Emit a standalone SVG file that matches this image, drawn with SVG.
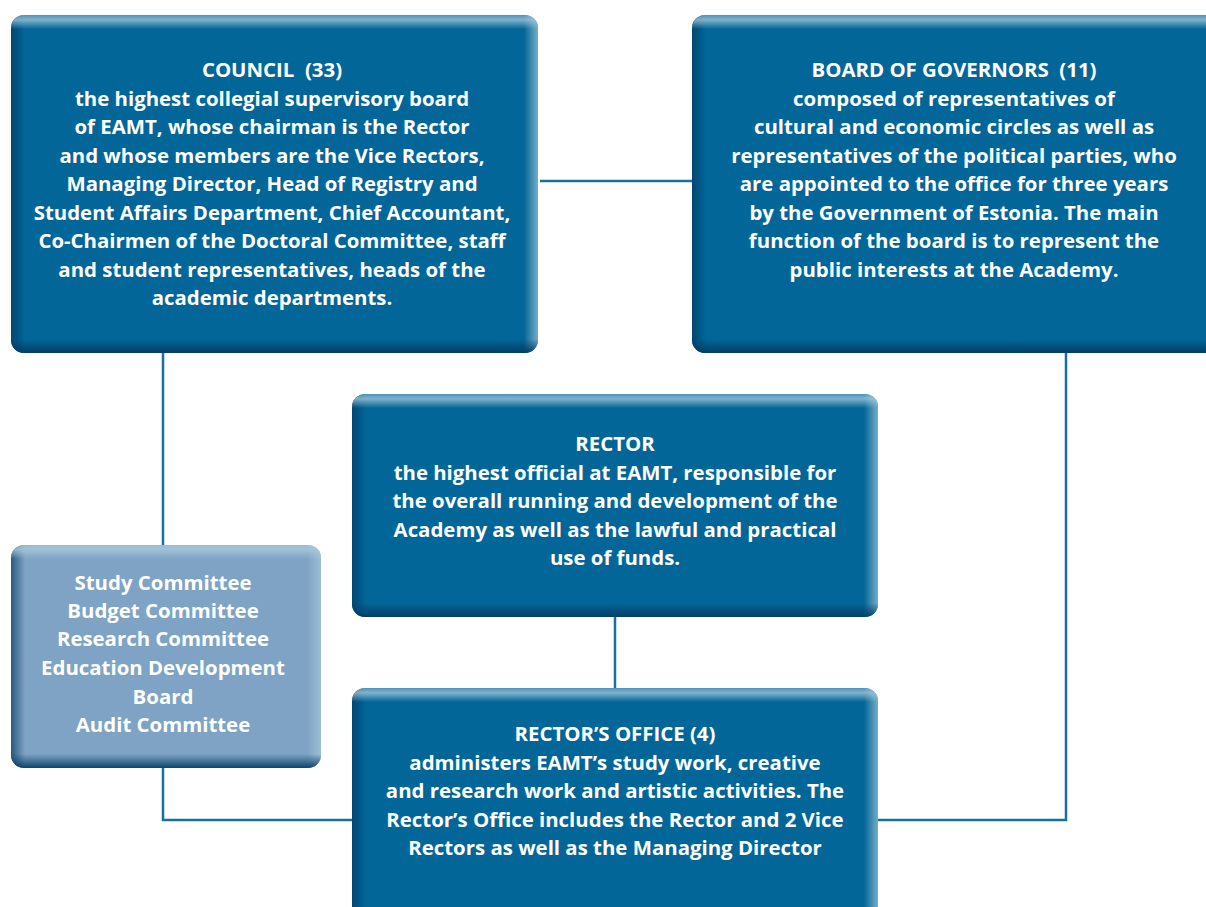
<svg xmlns="http://www.w3.org/2000/svg" width="1206" height="907" viewBox="0 0 1206 907">
<defs>
<linearGradient id="gTop" x1="0" y1="0" x2="0" y2="1"><stop offset="0" stop-color="#cfe3ee" stop-opacity="0.35"/><stop offset="0.35" stop-color="#a9cbdd" stop-opacity="0.75"/><stop offset="1" stop-color="#a9cbdd" stop-opacity="0"/></linearGradient>
<linearGradient id="gBot" x1="0" y1="0" x2="0" y2="1"><stop offset="0" stop-color="#003a63" stop-opacity="0"/><stop offset="1" stop-color="#003a63" stop-opacity="0.9"/></linearGradient>
<linearGradient id="gLeft" x1="0" y1="0" x2="1" y2="0"><stop offset="0" stop-color="#003a63" stop-opacity="0.7"/><stop offset="1" stop-color="#003a63" stop-opacity="0"/></linearGradient>
<linearGradient id="gRight" x1="0" y1="0" x2="1" y2="0"><stop offset="0" stop-color="#a9cbdd" stop-opacity="0"/><stop offset="1" stop-color="#a9cbdd" stop-opacity="0.7"/></linearGradient>
<clipPath id="cCouncil"><rect x="11" y="15" width="527" height="338" rx="13"/></clipPath>
<clipPath id="cBoard"><rect x="692" y="15" width="530" height="338" rx="13"/></clipPath>
<clipPath id="cRector"><rect x="352" y="394" width="526" height="223" rx="13"/></clipPath>
<clipPath id="cOffice"><rect x="352" y="688" width="526" height="235" rx="13"/></clipPath>
<clipPath id="cComm"><rect x="11" y="545" width="310" height="223" rx="13"/></clipPath>
</defs>
<style>
.box{fill:#026698}
.lite{fill:#7ea3c4}
.t{font-family:"Open Sans","Liberation Sans",sans-serif;font-weight:bold;font-size:20.4px;fill:#ffffff;text-anchor:middle;white-space:pre}
.c{stroke:#17709d;stroke-width:2.5;fill:none}
</style>
<g id="connectors">
<line class="c" x1="540" y1="181" x2="692" y2="181"/>
<polyline class="c" points="163,353 163,545"/>
<polyline class="c" points="163,768 163,820 352,820"/>
<polyline class="c" points="1066,353 1066,820 878,820"/>
<line class="c" x1="615" y1="617" x2="615" y2="688"/>
</g>
<g id="council" clip-path="url(#cCouncil)">
<rect class="box" x="11" y="15" width="527" height="338"/>
<rect x="11" y="15" width="14" height="338" fill="url(#gLeft)"/>
<rect x="524" y="15" width="14" height="338" fill="url(#gRight)"/>
<rect x="11" y="15" width="527" height="14" fill="url(#gTop)"/>
<rect x="11" y="339" width="527" height="14" fill="url(#gBot)"/>
<text class="t" x="272" y="77">COUNCIL  (33)</text>
<text class="t" x="272" y="106">the highest collegial supervisory board</text>
<text class="t" x="272" y="134">of EAMT, whose chairman is the Rector</text>
<text class="t" x="272" y="163">and whose members are the Vice Rectors,</text>
<text class="t" x="272" y="191">Managing Director, Head of Registry and</text>
<text class="t" x="272" y="220">Student Affairs Department, Chief Accountant,</text>
<text class="t" x="272" y="248">Co-Chairmen of the Doctoral Committee, staff</text>
<text class="t" x="272" y="277">and student representatives, heads of the</text>
<text class="t" x="272" y="305">academic departments.</text>
</g>
<g id="board" clip-path="url(#cBoard)">
<rect class="box" x="692" y="15" width="530" height="338"/>
<rect x="692" y="15" width="14" height="338" fill="url(#gLeft)"/>
<rect x="692" y="15" width="530" height="14" fill="url(#gTop)"/>
<rect x="692" y="339" width="530" height="14" fill="url(#gBot)"/>
<text class="t" x="954" y="77">BOARD OF GOVERNORS  (11)</text>
<text class="t" x="954" y="106">composed of representatives of</text>
<text class="t" x="954" y="134">cultural and economic circles as well as</text>
<text class="t" x="954" y="163">representatives of the political parties, who</text>
<text class="t" x="954" y="191">are appointed to the office for three years</text>
<text class="t" x="954" y="220">by the Government of Estonia. The main</text>
<text class="t" x="954" y="248">function of the board is to represent the</text>
<text class="t" x="954" y="277">public interests at the Academy.</text>
</g>
<g id="rector" clip-path="url(#cRector)">
<rect class="box" x="352" y="394" width="526" height="223"/>
<rect x="352" y="394" width="14" height="223" fill="url(#gLeft)"/>
<rect x="864" y="394" width="14" height="223" fill="url(#gRight)"/>
<rect x="352" y="394" width="526" height="14" fill="url(#gTop)"/>
<rect x="352" y="603" width="526" height="14" fill="url(#gBot)"/>
<text class="t" x="615" y="451">RECTOR</text>
<text class="t" x="615" y="480">the highest official at EAMT, responsible for</text>
<text class="t" x="615" y="508">the overall running and development of the</text>
<text class="t" x="615" y="537">Academy as well as the lawful and practical</text>
<text class="t" x="615" y="565">use of funds.</text>
</g>
<g id="committees" clip-path="url(#cComm)">
<rect class="lite" x="11" y="545" width="310" height="223"/>
<rect x="11" y="545" width="14" height="223" fill="url(#gLeft)"/>
<rect x="307" y="545" width="14" height="223" fill="url(#gRight)"/>
<rect x="11" y="545" width="310" height="14" fill="url(#gTop)"/>
<rect x="11" y="754" width="310" height="14" fill="url(#gBot)"/>
<text class="t" x="163" y="590">Study Committee</text>
<text class="t" x="163" y="618">Budget Committee</text>
<text class="t" x="163" y="646">Research Committee</text>
<text class="t" x="163" y="675">Education Development</text>
<text class="t" x="163" y="704">Board</text>
<text class="t" x="163" y="732">Audit Committee</text>
</g>
<g id="office" clip-path="url(#cOffice)">
<rect class="box" x="352" y="688" width="526" height="235"/>
<rect x="352" y="688" width="14" height="235" fill="url(#gLeft)"/>
<rect x="864" y="688" width="14" height="235" fill="url(#gRight)"/>
<rect x="352" y="688" width="526" height="14" fill="url(#gTop)"/>
<text class="t" x="615" y="741">RECTOR’S OFFICE (4)</text>
<text class="t" x="615" y="770">administers EAMT’s study work, creative</text>
<text class="t" x="615" y="798">and research work and artistic activities. The</text>
<text class="t" x="615" y="827">Rector’s Office includes the Rector and 2 Vice</text>
<text class="t" x="615" y="855">Rectors as well as the Managing Director</text>
</g>
</svg>
